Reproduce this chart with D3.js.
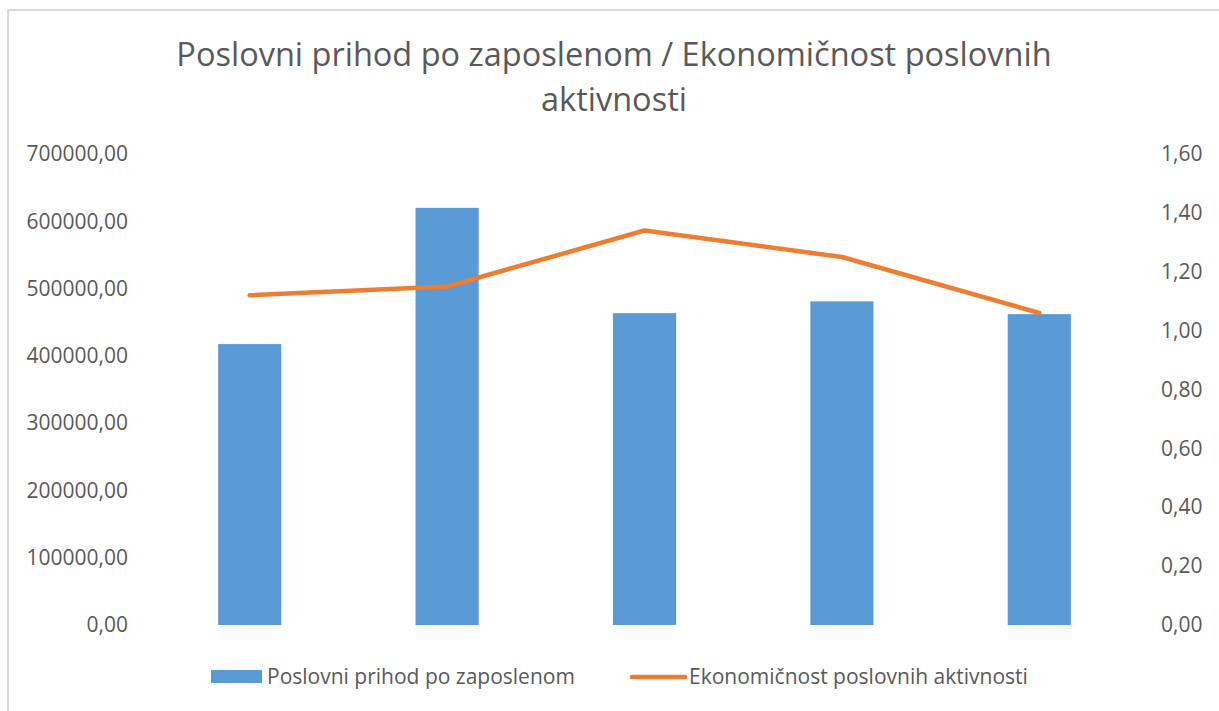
<!DOCTYPE html>
<html>
<head>
<meta charset="utf-8">
<script src="https://cdnjs.cloudflare.com/ajax/libs/d3/7.8.5/d3.min.js"></script>
<style>
  body { margin: 0; background: #fff; }
  svg text { font-family: "Open Sans", sans-serif; fill: #595959; }
  .axis path, .axis line { display: none; }
</style>
</head>
<body>
<div id="chart"></div>
<script>
// data
var categories = ["1", "2", "3", "4", "5"];
var prihod = [417500, 620000, 463500, 481000, 462000];      // Poslovni prihod po zaposlenom
var ekonomicnost = [1.12, 1.15, 1.34, 1.25, 1.06];         // Ekonomičnost poslovnih aktivnosti
var leftTicks = [0, 100000, 200000, 300000, 400000, 500000, 600000, 700000];
var rightTicks = [0, 0.2, 0.4, 0.6, 0.8, 1.0, 1.2, 1.4, 1.6];
var titleLines = ["Poslovni prihod po zaposlenom / Ekonomičnost poslovnih", "aktivnosti"];
var seriesNames = ["Poslovni prihod po zaposlenom", "Ekonomičnost poslovnih aktivnosti"];

var W = 1219, H = 711;
var plot = {left: 151, right: 1138, top: 154, bottom: 625};

var svg = d3.select("#chart").append("svg")
    .attr("width", W).attr("height", H);

// chart area border
svg.append("path")
    .attr("d", "M8," + H + "V10H" + W)
    .attr("fill", "none")
    .attr("stroke", "#d9d9d9")
    .attr("stroke-width", 2);

var x = d3.scaleBand().domain(categories).range([plot.left, plot.right]).paddingInner(0.68).paddingOuter(0.34);
var y = d3.scaleLinear().domain([0, 700000]).range([plot.bottom, plot.top]);
var y2 = d3.scaleLinear().domain([0, 1.6]).range([plot.bottom, plot.top]);

var fmt = function (d, n) { return d3.format("." + n + "f")(d).replace(".", ","); };

svg.append("g").attr("class", "axis")
    .attr("transform", "translate(128,0)")
    .call(d3.axisLeft(y).tickValues(leftTicks).tickSize(0).tickPadding(0).tickFormat(function (d) { return fmt(d, 2); }))
    .selectAll("text").style("font-size", "21px").attr("fill", "#595959");

svg.append("g").attr("class", "axis")
    .attr("transform", "translate(1161,0)")
    .call(d3.axisRight(y2).tickValues(rightTicks).tickSize(0).tickPadding(0).tickFormat(function (d) { return fmt(d, 2); }))
    .selectAll("text").style("font-size", "21px").attr("fill", "#595959");

svg.selectAll(".bar").data(prihod).enter().append("rect")
    .attr("class", "bar")
    .attr("x", function (d, i) { return x(categories[i]); })
    .attr("width", x.bandwidth())
    .attr("y", function (d) { return y(d); })
    .attr("height", function (d) { return y(0) - y(d); })
    .attr("fill", "#5b9bd5");

var line = d3.line()
    .x(function (d, i) { return x(categories[i]) + x.bandwidth() / 2; })
    .y(function (d) { return y2(d); });

svg.append("path").datum(ekonomicnost)
    .attr("d", line)
    .attr("fill", "none")
    .attr("stroke", "#ed7d31")
    .attr("stroke-width", 4.5)
    .attr("stroke-linecap", "round")
    .attr("stroke-linejoin", "round");

// title
svg.append("g").selectAll("text").data(titleLines).enter().append("text")
    .attr("x", 614)
    .attr("y", function (d, i) { return 66 + i * 45; })
    .attr("text-anchor", "middle")
    .style("font-size", "32.5px")
    .text(function (d) { return d; });

// legend
var lg = svg.append("g");
lg.append("rect").attr("x", 211).attr("y", 670).attr("width", 51).attr("height", 13).attr("fill", "#5b9bd5");
lg.append("text").attr("x", 267).attr("y", 684).style("font-size", "21px").text(seriesNames[0]);
lg.append("line").attr("x1", 632).attr("x2", 685).attr("y1", 677).attr("y2", 677)
    .attr("stroke", "#ed7d31").attr("stroke-width", 4.5).attr("stroke-linecap", "round");
lg.append("text").attr("x", 689).attr("y", 684).style("font-size", "21px").text(seriesNames[1]);
</script>
</body>
</html>
